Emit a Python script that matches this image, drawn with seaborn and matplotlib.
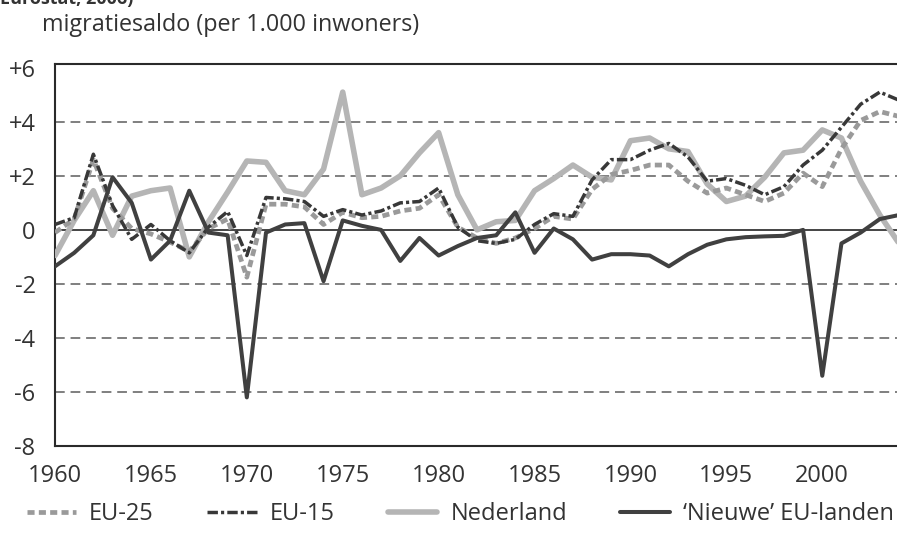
import numpy as np
import pandas as pd
import matplotlib
matplotlib.use("Agg")
import matplotlib.pyplot as plt
import seaborn as sns

jaren = list(range(1960, 2005))
eu25 = [-0.1, 0.4, 2.6, 0.8, 0.05, -0.15, -0.45, -0.8, 0.05, 0.4,
        -1.75, 0.95, 0.95, 0.85, 0.2, 0.65, 0.45, 0.5, 0.7, 0.8,
        1.3, 0.1, -0.3, -0.5, -0.3, 0.05, 0.5, 0.4, 1.5, 2.05,
        2.2, 2.4, 2.4, 1.8, 1.36, 1.55, 1.3, 1.05, 1.36, 2.1,
        1.6, 3.0, 4.05, 4.38, 4.2]
eu15 = [0.2, 0.45, 2.8, 0.9, -0.35, 0.2, -0.4, -0.85, 0.1, 0.68,
        -0.95, 1.2, 1.15, 1.05, 0.5, 0.75, 0.55, 0.7, 1.0, 1.05,
        1.55, 0.1, -0.4, -0.5, -0.35, 0.2, 0.6, 0.5, 1.85, 2.6,
        2.6, 2.95, 3.2, 2.7, 1.8, 1.9, 1.65, 1.3, 1.6, 2.4,
        2.95, 3.8, 4.65, 5.1, 4.8]
nederland = [-0.95, 0.35, 1.45, -0.2, 1.25, 1.45, 1.55, -1.0, 0.3, 1.4,
             2.55, 2.5, 1.45, 1.3, 2.25, 5.1, 1.3, 1.55, 2.0, 2.85,
             3.6, 1.3, 0.0, 0.3, 0.35, 1.45, 1.9, 2.4, 1.95, 1.85,
             3.3, 3.4, 3.0, 2.9, 1.7, 1.05, 1.25, 1.95, 2.85, 2.95,
             3.7, 3.4, 1.8, 0.55, -0.5]
nieuwe = [-1.35, -0.85, -0.2, 1.95, 1.0, -1.1, -0.4, 1.45, -0.1, -0.2,
          -6.2, -0.1, 0.2, 0.25, -1.9, 0.35, 0.15, 0.0, -1.15, -0.3,
          -0.95, -0.6, -0.3, -0.2, 0.65, -0.85, 0.05, -0.35, -1.1, -0.9,
          -0.9, -0.95, -1.35, -0.9, -0.55, -0.35, -0.27, -0.24, -0.22, 0.0,
          -5.4, -0.5, -0.1, 0.4, 0.55]

reeksen = ["EU-25", "EU-15", "Nederland", "\u2018Nieuwe\u2019 EU-landen"]
ytick_waarden = [-8, -6, -4, -2, 0, 2, 4, 6]
ytick_labels = ["-8", "-6", "-4", "-2", "0", "+2", "+4", "+6"]
xtick_waarden = [1960, 1965, 1970, 1975, 1980, 1985, 1990, 1995, 2000]

df = pd.DataFrame({"jaar": jaren, reeksen[0]: eu25, reeksen[1]: eu15,
                   reeksen[2]: nederland, reeksen[3]: nieuwe})

sns.set_style("white")
plt.rcParams["font.family"] = ["Open Sans", "DejaVu Sans"]

fig = plt.figure(figsize=(8.97, 5.51), dpi=100)
ax = fig.add_axes([55 / 897, 1 - 446 / 551, 844 / 897, 382 / 551])

# stijl per reeks: kleur, lijndikte, streepjespatroon, volgorde
stijl = {
    reeksen[0]: dict(color="#9a9a9a", lw=3.4, ls=(0, (1.5, 0.9)), z=4),
    reeksen[1]: dict(color="#383838", lw=2.5, ls=(0, (3.0, 0.9, 0.9, 0.9)), z=5),
    reeksen[2]: dict(color="#b5b5b5", lw=4.0, ls="-", z=3),
    reeksen[3]: dict(color="#404040", lw=2.9, ls="-", z=6),
}

handles = []
for naam in reeksen:
    s = stijl[naam]
    sns.lineplot(data=df, x="jaar", y=naam, ax=ax, color=s["color"],
                 linewidth=s["lw"], linestyle=s["ls"], zorder=s["z"],
                 label=naam, legend=False)
    lijn = ax.get_lines()[-1]
    lijn.set_dash_capstyle("butt")
    lijn.set_solid_joinstyle("round")
    handles.append(lijn)

for y in [-6, -4, -2, 2, 4]:
    ax.axhline(y, color="#7f7f7f", lw=1.4, ls=(0, (5, 3)), zorder=1)
ax.axhline(0, color="#444444", lw=1.4, zorder=2)

ax.set_xlim(1960, 2004)
ax.set_ylim(-8, 6.14)
ax.set_yticks(ytick_waarden)
ax.set_yticklabels(ytick_labels)
ax.set_xticks(xtick_waarden)
ax.set_xticklabels([str(j) for j in xtick_waarden])
ax.tick_params(axis="both", length=0, labelsize=17, colors="#333333")
ax.tick_params(axis="y", pad=14)
ax.tick_params(axis="x", pad=13)
ax.set_xlabel("")
ax.set_ylabel("")

for kant in ["left", "bottom", "top"]:
    ax.spines[kant].set_color("#2a2a2a")
    ax.spines[kant].set_linewidth(1.5)
ax.spines["right"].set_visible(False)

fig.text(42 / 897, 1 - 31 / 551, "migratiesaldo (per 1.000 inwoners)",
         fontsize=16.8, color="#333333", va="baseline", ha="left")
fig.text(0.0, 1 - 4 / 551, "Eurostat, 2006)", fontsize=13,
         fontweight="bold", color="#333333", va="baseline", ha="left")

fig.legend(handles, reeksen, loc="center", ncol=4,
           bbox_to_anchor=(460 / 897, 1 - 514 / 551), frameon=False,
           fontsize=17, handlelength=2.1, handletextpad=0.55,
           columnspacing=2.25, labelcolor="#333333")

fig.savefig("out.png", dpi=100)
